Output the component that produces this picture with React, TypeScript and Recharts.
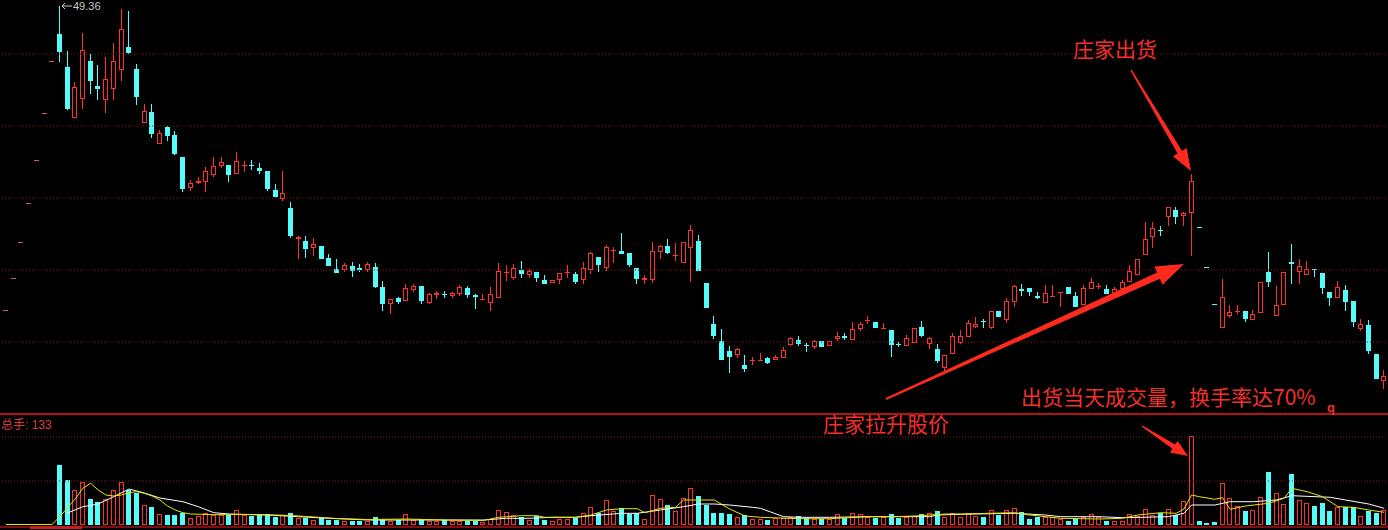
import React from "react";
import { ComposedChart, Bar, Line, XAxis, YAxis, ReferenceLine } from "recharts";

// leading one-price days shown as dashes before the first real candle
const preDash = [19.0, 22.2, 25.8, 29.7, 34.0, 38.7, 43.9];

const opens = [
  46.6, 43.27, 38.33, 40.23, 43.87, 41.4, 40.07, 41.17, 43.07, 45.27,
  43.1, 37.83, 38.77, 35.73, 37.27, 36.5, 34.27, 31.25, 31.8, 31.9,
  32.6, 33.53, 33.5, 32.67, 33.45, 33.52, 33.23, 32.88, 31.0, 30.17,
  29.2, 26.23, 25.85, 25.3, 25.38, 24.2, 23.1, 23.07, 23.4, 23.18,
  23.1, 23.3, 21.27, 19.73, 20.23, 20.0, 21.07, 21.43, 19.8, 20.65,
  20.62, 20.5, 20.67, 21.17, 20.45, 20.07, 19.77, 20.33, 22.82, 22.27,
  23.0, 22.6, 22.8, 22.0, 21.77, 22.1, 22.78, 22.6, 22.1, 23.13,
  24.27, 23.27, 24.98, 24.93, 24.67, 23.17, 22.15, 22.07, 24.93, 25.4,
  24.48, 23.8, 25.33, 25.93, 21.65, 17.6, 15.9, 14.9, 14.6, 13.5,
  13.98, 14.02, 14.17, 14.1, 14.33, 15.57, 16.0, 15.52, 15.4, 15.87,
  15.47, 16.17, 16.35, 16.13, 17.17, 17.98, 17.83, 17.17, 17.0, 15.62,
  15.5, 15.77, 17.27, 15.67, 15.07, 13.33, 14.67, 15.77, 16.43, 17.4,
  17.94, 17.33, 18.95, 18.15, 19.92, 21.07, 21.2, 20.35, 19.83, 20.4,
  20.82, 21.33, 20.4, 19.6, 21.17, 21.38, 21.07, 20.6, 21.17, 21.9,
  22.57, 24.6, 26.43, 27.02, 28.43, 29.0, 28.5, 28.83, 27.34, 23.28,
  19.58, 17.27, 18.5, 18.88, 18.9, 18.15, 18.83, 22.85, 18.47, 19.57,
  23.75, 22.93, 22.63, 23.1, 22.67, 20.78, 20.33, 21.0, 19.9, 17.22,
  17.48, 14.63, 12.0,
];

const closes = [
  44.93, 39.23, 41.27, 45.0, 42.0, 41.23, 42.07, 43.9, 47.07, 44.83,
  40.43, 38.9, 36.67, 36.67, 36.5, 34.67, 31.23, 31.73, 31.9, 32.85,
  33.4, 33.8, 32.65, 33.88, 33.5, 33.48, 33.0, 31.2, 30.43, 30.7,
  26.5, 26.27, 25.2, 25.6, 24.25, 23.53, 22.83, 23.5, 23.0, 23.15,
  23.6, 21.4, 19.73, 20.1, 19.93, 21.2, 21.4, 20.0, 20.6, 20.67,
  20.58, 20.7, 21.33, 20.6, 20.42, 20.08, 20.57, 22.9, 22.85, 23.17,
  22.73, 22.87, 22.27, 21.73, 22.0, 22.7, 22.8, 21.9, 23.17, 24.73,
  23.6, 25.27, 25.0, 24.67, 23.6, 22.23, 22.17, 24.9, 25.4, 24.77,
  24.5, 25.8, 27.0, 23.0, 19.33, 16.5, 14.07, 14.4, 15.07, 13.17,
  14.0, 14.03, 13.83, 14.33, 15.0, 16.17, 15.73, 15.48, 15.87, 15.43,
  15.87, 16.43, 16.32, 17.07, 17.6, 18.0, 17.33, 17.18, 15.6, 15.6,
  16.17, 17.17, 16.5, 16.17, 14.0, 14.5, 16.4, 16.4, 17.73, 17.6,
  17.92, 18.93, 18.45, 19.9, 21.37, 21.03, 20.88, 20.33, 20.73, 20.42,
  20.83, 20.67, 19.4, 21.17, 21.83, 21.4, 20.73, 21.1, 21.83, 22.9,
  24.1, 26.07, 27.17, 27.0, 29.27, 28.43, 28.73, 31.93, 27.33, 23.27,
  19.57, 20.3, 18.8, 18.9, 18.2, 18.6, 21.75, 21.93, 19.5, 22.75,
  23.73, 23.37, 23.15, 23.07, 21.33, 20.33, 21.28, 19.93, 17.93, 17.58,
  15.05, 12.17, 12.45,
];

const highs = [
  49.36, 44.93, 41.83, 46.73, 44.6, 43.5, 44.33, 45.73, 49.1, 48.9,
  43.57, 39.6, 39.57, 37.0, 37.4, 36.9, 34.27, 32.0, 32.33, 33.33,
  34.33, 34.3, 33.5, 34.78, 33.88, 34.0, 33.7, 32.88, 31.6, 32.93,
  29.8, 26.37, 26.37, 26.2, 25.38, 24.6, 24.07, 23.73, 23.8, 23.6,
  23.83, 23.67, 21.9, 20.1, 20.33, 21.57, 21.6, 21.43, 20.73, 20.87,
  20.93, 20.83, 21.5, 21.4, 20.57, 20.57, 21.27, 23.73, 23.5, 23.6,
  23.9, 23.07, 22.8, 22.5, 22.0, 22.7, 23.5, 22.83, 23.83, 24.83,
  24.27, 25.5, 25.33, 26.67, 24.67, 23.17, 22.5, 25.83, 25.5, 26.07,
  25.67, 25.8, 27.5, 26.5, 21.73, 18.4, 17.07, 15.4, 15.17, 14.5,
  14.33, 14.73, 14.33, 14.5, 15.33, 16.33, 16.4, 15.73, 16.0, 15.87,
  15.87, 16.83, 16.73, 17.83, 17.83, 18.4, 17.83, 17.67, 17.0, 15.83,
  16.5, 17.17, 17.93, 16.33, 15.6, 14.5, 16.67, 17.0, 18.0, 18.27,
  18.07, 18.93, 18.95, 20.25, 21.5, 21.6, 21.2, 20.83, 21.5, 21.5,
  20.83, 21.33, 20.83, 21.5, 22.17, 21.73, 21.5, 21.3, 22.0, 23.5,
  24.1, 27.83, 27.83, 27.4, 29.27, 29.27, 28.83, 32.6, 27.34, 23.28,
  19.58, 22.1, 19.5, 19.5, 18.9, 19.0, 21.75, 24.8, 21.4, 22.75,
  25.6, 24.07, 23.9, 23.1, 22.67, 20.78, 21.9, 21.5, 19.9, 18.15,
  18.03, 14.63, 12.97,
];

const lows = [
  43.93, 39.13, 38.33, 39.17, 40.73, 40.1, 38.83, 40.13, 42.0, 44.73,
  39.57, 37.83, 36.33, 35.73, 36.0, 34.6, 30.9, 31.0, 31.73, 30.9,
  32.4, 33.33, 31.9, 32.67, 32.93, 33.1, 32.73, 31.0, 30.43, 30.03,
  26.33, 24.17, 24.3, 24.45, 24.25, 23.53, 22.83, 22.93, 22.4, 22.93,
  22.93, 21.27, 19.0, 18.67, 19.73, 20.0, 20.93, 19.73, 19.73, 20.17,
  20.27, 20.33, 20.5, 20.33, 19.17, 20.07, 19.0, 20.33, 22.0, 22.07,
  22.33, 22.33, 21.9, 21.67, 21.77, 21.67, 22.33, 21.67, 21.67, 22.73,
  22.93, 23.0, 23.83, 24.67, 23.4, 21.73, 21.67, 21.83, 24.17, 24.67,
  24.0, 23.8, 21.93, 23.0, 19.33, 16.2, 14.07, 12.83, 14.33, 12.93,
  13.6, 14.0, 13.73, 14.07, 14.27, 15.5, 15.5, 14.93, 15.17, 15.43,
  15.47, 16.0, 16.07, 16.13, 17.0, 17.67, 17.33, 17.17, 14.4, 15.4,
  15.5, 15.77, 16.4, 15.23, 13.83, 12.83, 14.67, 15.67, 16.43, 17.33,
  17.27, 17.17, 18.45, 17.83, 19.4, 20.55, 20.5, 20.17, 19.83, 20.4,
  19.4, 20.67, 19.4, 19.6, 21.17, 21.17, 20.73, 20.6, 21.17, 21.9,
  22.57, 24.6, 25.27, 26.5, 27.5, 27.73, 27.5, 24.5, 27.33, 23.27,
  19.57, 17.27, 18.3, 18.73, 17.93, 18.15, 18.83, 21.45, 18.47, 19.57,
  21.73, 21.73, 22.6, 22.4, 20.67, 19.5, 20.33, 19.0, 17.45, 17.0,
  14.73, 12.17, 11.17,
];

const volumes = [
  60, 45, 35, 43, 26, 23, 26, 35, 43, 35,
  32, 20, 18, 11, 10, 10, 12, 7, 9, 12,
  10, 10, 10, 15, 10, 9, 10, 11, 8, 10,
  12, 7, 7, 5, 7, 5, 5, 4.5, 4.5, 4.5,
  4.5, 8, 5, 4.5, 5, 11, 5, 6, 4.5, 4.5,
  5, 4.5, 4.5, 4.5, 4.5, 3, 6, 15, 12.7, 10,
  8, 5, 9, 5, 4.5, 6, 6, 7, 12, 18,
  12, 25, 14, 17, 11, 12, 6, 30, 26, 20,
  14, 27, 37, 29, 20, 12, 12, 11, 8, 10,
  6, 6, 5, 7, 7, 8, 9, 7, 6, 6,
  6, 11, 7, 12.5, 11, 8, 7.5, 8, 11, 7,
  8, 9, 11, 12, 14, 8, 12, 8, 12.5, 9,
  8, 15, 10, 15, 17, 13, 6, 8, 8, 8,
  6, 4.5, 6, 8, 11, 8, 4.5, 4, 4, 11,
  9, 16, 10, 11.7, 16, 10, 24, 89, 4, 1.7,
  3, 41.7, 26.7, 19, 14, 15, 27.7, 52.7, 31.7, 21,
  51, 25, 21.7, 19, 22.3, 14, 18.3, 17.7, 17.7, 9,
  14.3, 11.7, 15,
];

// volume averages: [candle index, value]
const ma5Points: [number, number][] = [
  [-7, 0.5], [-1, 0.5], [0, 8.3], [1, 17.3], [2, 26], [3, 36.7], [4, 41.7], [5, 35],
  [6, 30], [7, 29], [8, 30], [9, 32.3], [10, 33.3], [11, 31.7], [12, 29], [13, 25],
  [14, 19], [15, 15], [16, 12.3], [17, 11], [20, 10.3], [24, 10.5], [28, 10], [30, 9.5],
  [33, 8], [36, 6.5], [40, 5.5], [45, 6], [50, 5], [55, 4.5], [57, 7.7], [60, 9.3],
  [62, 9.3], [63, 7.7], [67, 7.7], [69, 10], [71, 15], [73, 16.3], [75, 16.3], [76, 12.3],
  [78, 16.7], [80, 17.7], [81, 25], [85, 25], [87, 16], [89, 9], [91, 7.7], [96, 6.3],
  [100, 6.3], [105, 8.3], [108, 8.3], [111, 9], [115, 11], [117, 11], [124, 12.3], [126, 10],
  [130, 6.7], [135, 6], [138, 6.7], [140, 10], [143, 12.3], [145, 11.7], [146, 16], [147, 30],
  [148, 28.3], [150, 25.7], [151, 27.3], [152, 15.7], [154, 19], [157, 21.7], [159, 26.7], [160, 36.7],
  [162, 33.3], [164, 28.3], [166, 18.3], [168, 17.7], [170, 15], [172, 12.7],
];

const ma10Points: [number, number][] = [
  [1, 12], [3, 18.3], [5, 21], [7, 28.3], [9, 36], [11, 32], [13, 27], [16, 23.3],
  [18, 18.3], [20, 12.3], [22, 11], [27, 10], [31, 8.3], [35, 6.7], [40, 5], [50, 5],
  [55, 5], [58, 6.7], [61, 6.7], [64, 7.7], [67, 7.7], [69, 9.3], [73, 11.7], [75, 11.7],
  [78, 15], [81, 18.3], [83, 21], [85, 21], [87, 20], [90, 17.7], [91, 16.7], [94, 8.3],
  [96, 7.7], [100, 7.7], [105, 8.3], [113, 8.3], [114, 10], [117, 10.7], [124, 11.7], [128, 10],
  [130, 8.3], [135, 8.3], [138, 7.3], [144, 8.3], [146, 11.7], [147, 20], [150, 20], [152, 23.3],
  [155, 23.3], [158, 25], [160, 29.3], [165, 27.7], [167, 25], [170, 21], [172, 16.7],
];

const priceGrid = [44.6, 37.4, 30.2, 23.0, 15.8];
const volGrid = [88, 44];

const UP = "#ff3030";
const DOWN = "#54fcfc";
const PRE = "#d06262";
const GRID = "#8a1c1c";
const NOTE = "#f2302a";

type Row = {
  i: number;
  o?: number;
  c?: number;
  h?: number;
  l?: number;
  vol?: number;
  ma5?: number;
  ma10?: number;
  pre?: boolean;
};

const LEAD = preDash.length;
const rows: Row[] = [];
preDash.forEach((p, i) => rows.push({ i, o: p, c: p, h: p, l: p, pre: true }));
opens.forEach((o, n) =>
  rows.push({ i: n + LEAD, o, c: closes[n], h: highs[n], l: lows[n], vol: volumes[n] })
);
ma5Points.forEach(([n, v]) => {
  rows[n + LEAD].ma5 = v;
});
ma10Points.forEach(([n, v]) => {
  rows[n + LEAD].ma10 = v;
});

function Candle(props: any) {
  const { x, y, width, height, payload } = props;
  if (!payload || payload.h == null) return null;
  const { o, c, h, l } = payload;
  const top = Math.min(y, y + height);
  const span = Math.abs(height);
  const toY = (p: number) => (h > l ? top + ((h - p) / (h - l)) * span : top);
  const x0 = Math.round(x);
  const w = Math.round(width);
  const cx = x0 + Math.floor(w / 2) + 0.5;
  const yh = Math.round(toY(h));
  const yl = Math.round(toY(l));
  const bt = Math.round(toY(Math.max(o, c)));
  const bb = Math.round(toY(Math.min(o, c)));
  const up = c > o;
  if (payload.pre || h === l) {
    const col = payload.pre ? PRE : up ? UP : DOWN;
    return <line x1={x0} x2={x0 + w} y1={yh + 0.5} y2={yh + 0.5} stroke={col} />;
  }
  const col = up ? UP : DOWN;
  if (bb - bt < 1) {
    return (
      <g stroke={col}>
        <line x1={cx} x2={cx} y1={yh} y2={yl + 1} />
        <line x1={x0} x2={x0 + w} y1={bt + 0.5} y2={bt + 0.5} />
      </g>
    );
  }
  if (up) {
    return (
      <g stroke={col} fill="none">
        {bt > yh && <line x1={cx} x2={cx} y1={yh} y2={bt} />}
        {yl > bb && <line x1={cx} x2={cx} y1={bb + 1} y2={yl + 1} />}
        <rect x={x0 + 0.5} y={bt + 0.5} width={w - 1} height={bb - bt} />
      </g>
    );
  }
  return (
    <g>
      <line x1={cx} x2={cx} y1={yh} y2={yl + 1} stroke={col} />
      <rect x={x0} y={bt} width={w} height={bb - bt + 1} fill={col} />
    </g>
  );
}

function VolBar(props: any) {
  const { x, y, width, height, payload } = props;
  if (!payload || payload.vol == null) return null;
  const x0 = Math.round(x);
  const w = Math.round(width);
  const yt = Math.round(Math.min(y, y + height));
  const yb = Math.round(Math.max(y, y + height));
  if (payload.c > payload.o) {
    return (
      <rect x={x0 + 0.5} y={yt + 0.5} width={w - 1} height={Math.max(yb - yt - 1, 1)} fill="none" stroke={UP} />
    );
  }
  return <rect x={x0} y={yt} width={w} height={Math.max(yb - yt, 1)} fill={DOWN} />;
}

function arrow(x1: number, y1: number, x2: number, y2: number, w1: number, w2: number, hl: number, hw: number) {
  const dx = x2 - x1;
  const dy = y2 - y1;
  const L = Math.hypot(dx, dy);
  const ux = dx / L;
  const uy = dy / L;
  const px = -uy;
  const py = ux;
  const bx = x2 - ux * hl;
  const by = y2 - uy * hl;
  const pts = [
    [x1 + (px * w1) / 2, y1 + (py * w1) / 2],
    [bx + (px * w2) / 2, by + (py * w2) / 2],
    [bx + (px * hw) / 2, by + (py * hw) / 2],
    [x2, y2],
    [bx - (px * hw) / 2, by - (py * hw) / 2],
    [bx - (px * w2) / 2, by - (py * w2) / 2],
    [x1 - (px * w1) / 2, y1 - (py * w1) / 2],
  ];
  return pts.map((p) => p[0].toFixed(1) + "," + p[1].toFixed(1)).join(" ");
}

const cjk = "'Noto Sans CJK SC', 'Noto Sans', sans-serif";
const latin = "'Liberation Sans', 'Noto Sans CJK SC', sans-serif";

export default function App() {
  return (
    <div
      style={{
        position: "absolute",
        left: 0,
        top: 0,
        width: 1388,
        height: 530,
        background: "#000",
        overflow: "hidden",
      }}
    >
      <div style={{ position: "absolute", left: 0, top: 0 }}>
        <ComposedChart width={1388} height={413} data={rows} margin={{ top: 0, right: 0, bottom: 0, left: 2 }}>
          <XAxis dataKey="i" hide />
          <YAxis hide type="number" domain={[8.7, 50]} allowDataOverflow />
          {priceGrid.map((v) => (
            <ReferenceLine key={v} y={v} stroke={GRID} strokeDasharray="1 2" />
          ))}
          <Bar
            dataKey={(r: Row) => (r.h == null ? null : [r.l, r.h])}
            barSize={5}
            shape={<Candle />}
            isAnimationActive={false}
          />
        </ComposedChart>
      </div>
      <div style={{ position: "absolute", left: 0, top: 413 }}>
        <ComposedChart width={1388} height={112} data={rows} margin={{ top: 0, right: 0, bottom: 0, left: 2 }}>
          <XAxis dataKey="i" hide />
          <YAxis hide type="number" domain={[0, 112]} allowDataOverflow />
          {volGrid.map((v) => (
            <ReferenceLine key={v} y={v} stroke={GRID} strokeDasharray="1 2" />
          ))}
          <Bar dataKey="vol" barSize={5} shape={<VolBar />} isAnimationActive={false} />
          <Line
            type="linear"
            dataKey="ma10"
            stroke="#ffffff"
            strokeWidth={1}
            dot={false}
            activeDot={false}
            connectNulls
            isAnimationActive={false}
          />
          <Line
            type="linear"
            dataKey="ma5"
            stroke="#e8e800"
            strokeWidth={1}
            dot={false}
            activeDot={false}
            connectNulls
            isAnimationActive={false}
          />
        </ComposedChart>
      </div>
      <svg
        width={1388}
        height={530}
        style={{ position: "absolute", left: 0, top: 0, pointerEvents: "none" }}
      >
        <line x1={0} x2={1388} y1={414} y2={414} stroke="#b41414" strokeWidth={2} />
        <line x1={0} x2={1388} y1={527} y2={527} stroke="#7a1010" strokeWidth={2} />
        <rect x={30} y={526} width={52} height={3} fill="#c02020" />

        <polyline points="65,3 62,6 65,9" fill="none" stroke="#c8c8c8" />
        <line x1={62} x2={72} y1={6} y2={6} stroke="#c8c8c8" />
        <text x={73} y={10} fontSize={11} fill="#c8c8c8" fontFamily={latin}>
          49.36
        </text>

        <text x={1073} y={48} dominantBaseline="central" fontSize={21} fill={NOTE} fontFamily={cjk}>
          庄家出货
        </text>
        <polygon points={arrow(1131, 70, 1191, 171, 1.5, 5, 22, 16)} fill="#ff2a1e" />

        <polygon points={arrow(886, 399, 1184, 264, 2, 7, 28, 20)} fill="#ff2a1e" />
        <text x={823} y={423} dominantBaseline="central" fontSize={21} fill={NOTE} fontFamily={cjk}>
          庄家拉升股价
        </text>

        <text x={1021} y={396} dominantBaseline="central" fontSize={21} fill={NOTE} fontFamily={cjk}>
          出货当天成交量，换手率达70%
        </text>
        <text x={1327} y={407} dominantBaseline="central" fontSize={13} fontWeight="bold" fill={NOTE} fontFamily={latin}>
          q
        </text>

        <polygon points={arrow(1142, 426, 1188, 456, 1.5, 5, 17, 14)} fill="#ff2a1e" />

        <text x={1} y={425} dominantBaseline="central" fontSize={12} fill="#d84040" fontFamily={latin}>
          总手: 133
        </text>
      </svg>
    </div>
  );
}
